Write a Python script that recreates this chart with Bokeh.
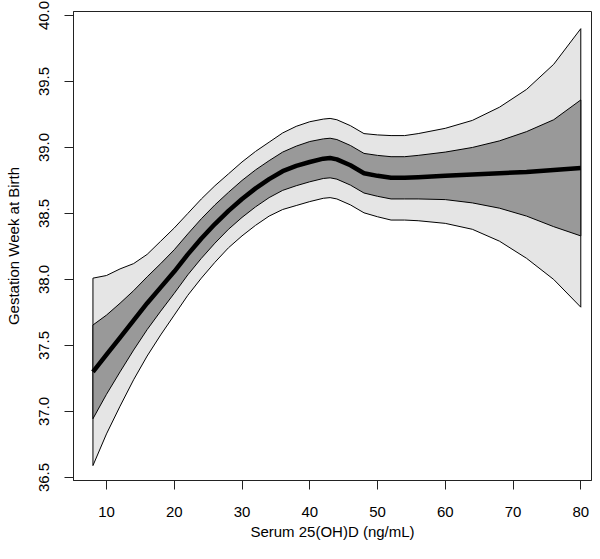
from bokeh.plotting import figure
from bokeh.models import Range1d, FixedTicker, NumeralTickFormatter
from bokeh.embed import file_html
from bokeh.resources import INLINE

# Serum 25(OH)D (ng/mL)
vitd = [8, 10, 12, 14, 16, 18, 20, 22, 24, 26, 28, 30, 32, 34, 36, 38, 40, 42, 43, 44,
        46, 48, 50, 52, 54, 56, 60, 64, 68, 72, 76, 80]
# fitted gestation week
fit = [37.30, 37.43, 37.56, 37.69, 37.82, 37.94, 38.06, 38.19, 38.31, 38.42,
       38.52, 38.61, 38.69, 38.76, 38.82, 38.86, 38.89, 38.915, 38.92, 38.91,
       38.865, 38.805, 38.785, 38.77, 38.77, 38.775, 38.785, 38.795, 38.805, 38.815,
       38.83, 38.845]
inner_upper = [37.655, 37.73, 37.82, 37.915, 38.02, 38.12, 38.225, 38.345, 38.46, 38.565,
               38.66, 38.75, 38.83, 38.90, 38.965, 39.01, 39.045, 39.065, 39.07, 39.06,
               39.015, 38.955, 38.94, 38.93, 38.93, 38.94, 38.965, 39.00, 39.05, 39.12,
               39.21, 39.36]
inner_lower = [36.945, 37.13, 37.30, 37.465, 37.62, 37.76, 37.895, 38.035, 38.16, 38.275,
               38.38, 38.47, 38.55, 38.62, 38.675, 38.71, 38.74, 38.765, 38.77, 38.76,
               38.715, 38.655, 38.63, 38.61, 38.61, 38.61, 38.605, 38.58, 38.54, 38.48,
               38.40, 38.33]
outer_upper = [38.01, 38.03, 38.08, 38.12, 38.19, 38.29, 38.39, 38.50, 38.61, 38.71,
               38.80, 38.89, 38.97, 39.04, 39.11, 39.16, 39.195, 39.215, 39.22, 39.21,
               39.165, 39.105, 39.095, 39.09, 39.09, 39.105, 39.145, 39.205, 39.305, 39.44,
               39.63, 39.90]
outer_lower = [36.59, 36.83, 37.04, 37.24, 37.42, 37.58, 37.73, 37.88, 38.01, 38.13,
               38.24, 38.33, 38.41, 38.48, 38.53, 38.56, 38.59, 38.615, 38.62, 38.61,
               38.565, 38.505, 38.475, 38.45, 38.45, 38.445, 38.425, 38.38, 38.29, 38.16,
               38.00, 37.79]

x_ticks = [10, 20, 30, 40, 50, 60, 70, 80]
y_ticks = [36.5, 37.0, 37.5, 38.0, 38.5, 39.0, 39.5, 40.0]

FONT = "Liberation Sans"

p = figure(width=592, height=543, output_backend="svg", toolbar_location=None,
           x_range=Range1d(5.13, 81.58), y_range=Range1d(36.477, 40.03),
           min_border_left=73, min_border_right=1, min_border_top=11, min_border_bottom=63)
p.background_fill_color = "white"
p.border_fill_color = "white"
p.outline_line_color = "#222222"
p.outline_line_width = 1
p.xgrid.visible = False
p.ygrid.visible = False

# outer band
p.patch(vitd + vitd[::-1], outer_upper + outer_lower[::-1],
        fill_color="#e5e5e5", line_color="black", line_width=1)
# inner band
p.patch(vitd + vitd[::-1], inner_upper + inner_lower[::-1],
        fill_color="#999999", line_color="black", line_width=1)
# fitted line
p.line(vitd, fit, line_color="black", line_width=4.5)

for ax in (p.xaxis[0], p.yaxis[0]):
    ax.axis_line_color = "#222222"
    ax.major_tick_line_color = "#222222"
    ax.major_tick_out = 9
    ax.major_tick_in = 0
    ax.minor_tick_line_color = None
    ax.major_label_text_font = FONT
    ax.major_label_text_font_size = "15px"
    ax.major_label_text_color = "black"
    ax.axis_label_text_font = FONT
    ax.axis_label_text_font_size = "15px"
    ax.axis_label_text_font_style = "normal"
    ax.axis_label_text_color = "black"

p.xaxis.ticker = FixedTicker(ticks=x_ticks)
p.yaxis.ticker = FixedTicker(ticks=y_ticks)
p.yaxis.formatter = NumeralTickFormatter(format="0.0")
p.yaxis.major_label_orientation = "vertical"
p.xaxis.axis_label = "Serum 25(OH)D (ng/mL)"
p.yaxis.axis_label = "Gestation Week at Birth"
p.xaxis.major_label_standoff = 17
p.xaxis.axis_label_standoff = 3
p.yaxis.major_label_standoff = 15
p.yaxis.axis_label_standoff = 15

open("out.html", "w").write(file_html(p, INLINE))
